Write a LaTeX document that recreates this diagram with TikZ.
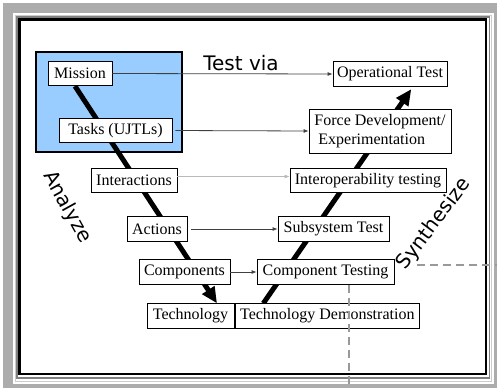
\documentclass[tikz,border=0pt]{standalone}
\usepackage{fontspec}
\setmainfont{Liberation Serif}
\newfontfamily\vfont{DejaVu Sans}
\usetikzlibrary{positioning,arrows.meta,calc}
\pgfdeclarelayer{frame}
\pgfdeclarelayer{behind}
\pgfsetlayers{frame,behind,main}
\definecolor{skyblue}{HTML}{99CCFF}
\definecolor{linegray}{HTML}{404040}

\begin{document}
\begin{tikzpicture}[x=1pt,y=-1pt,
    box/.style={draw,fill=white,line width=0.8pt,inner xsep=4pt,inner ysep=0pt,
      minimum height=24.5pt,font=\fontsize{16}{18.5}\selectfont},
    link/.style={-{Latex[length=5pt,width=4pt]},draw=linegray,line width=0.8pt},
    vee/.style={line width=5pt,-{Triangle[length=16pt,width=14pt]}},
    bigtext/.style={font=\vfont\fontsize{20}{24}\selectfont},
    dashline/.style={draw=gray!80,line width=1.5pt,dash pattern=on 8pt off 5pt}]
  \useasboundingbox (0,0) rectangle (497,388);

  % frame and shaded area
  \begin{pgfonlayer}{frame}
    \fill[white] (0,0) rectangle (497,388);
    \fill[gray!65] (3,3) rectangle (497,388);
    \fill[white] (13,13) rectangle (494,384);
    \draw[gray!40,line width=1pt] (15,15) rectangle (491.5,381);
    \draw[gray,line width=1.5pt] (16.8,16.8) rectangle (489.5,378);
    \draw[black,line width=2.5pt] (19.5,19.5) rectangle (486,374);
    \draw[fill=skyblue,line width=2pt] (36,52) rectangle (182,152);
  \end{pgfonlayer}

  % analysis side
  \node[box,minimum width=64pt] (mission) at (80,73.5) {Mission};
  \node[box,minimum width=113pt] (tasks) at (115.5,130.5) {Tasks (UJTLs)};
  \node[box,minimum width=86pt] (inter) at (134,180.5) {Interactions};
  \node[box,minimum width=60pt] (actions) at (157,229) {Actions};
  \node[box,minimum width=91pt] (comps) at (184.5,272) {Components};
  \node[box,minimum width=87pt] (tech) at (190.5,316) {Technology};

  % synthesis side
  \node[box,minimum width=184pt,right=0.5pt of tech] (demo) {Technology Demonstration};
  \node[box,minimum width=137pt] (ctest) at (325.5,272) {Component Testing};
  \node[box,minimum width=111pt] (subsys) at (333.5,229) {Subsystem Test};
  \node[box,minimum width=156pt] (interop) at (368,180.5) {Interoperability testing};
  \node[box,minimum width=142pt,minimum height=44pt,align=left] (force) at (380,131)
    {Force Development/\\\hspace{4pt}Experimentation};
  \node[box,minimum width=114pt] (optest) at (390,74) {Operational Test};

  \node[bigtext,anchor=base] (testvia) at (241,70) {Test via};
  \node[bigtext,rotate=-61] (analyze) at (67,207) {Analyze};
  \node[bigtext,rotate=53] (synth) at (434,224) {Synthesize};

  \begin{pgfonlayer}{behind}
    \draw[vee] ($(mission.south)+(-5,0)$) -- ($(tech.north)+(26.5,0)$);
    \draw[vee,shorten >=3pt] ($(demo.north)+(-64,0)$) -- ($(optest.south)+(23,0)$);
  \end{pgfonlayer}

  \draw[link] (mission.east) -- (optest.west);
  \draw[link,shorten <=3pt] (tasks.east) -- (force.west);
  \draw[link,draw=gray!55] ([yshift=4pt]inter.east) -- ([yshift=4pt]interop.west);
  \draw[link,shorten <=4pt] (actions.east) -- (subsys.west);
  \draw[link] (comps.east) -- (ctest.west);

  \draw[dashline] ($(ctest.south)+(23.5,0)$) -- (349,388);
  \draw[dashline] (417,265) -- (497,265);
\end{tikzpicture}
\end{document}
